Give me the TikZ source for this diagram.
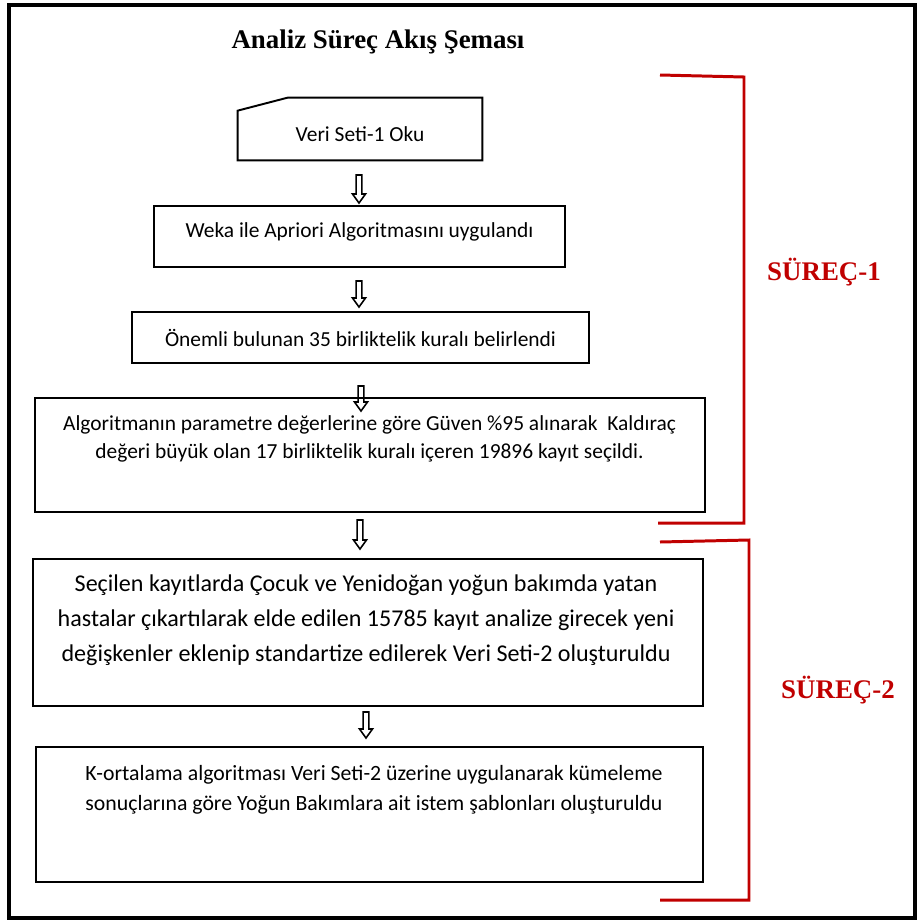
\documentclass[tikz,border=0pt]{standalone}
\usepackage{fontspec}
\setmainfont{Carlito}
\newfontfamily\timesfont{Liberation Serif}
\usetikzlibrary{calc}
\definecolor{surecred}{RGB}{192,0,0}
\newcommand\px{0.02cm}

\begin{document}
\begin{tikzpicture}[x=0.02cm, y=-0.02cm,
  box/.style = {draw, line width=1.1pt, inner sep=0pt},
  boxtext/.style = {align=center, inner sep=0pt, font=\fontsize{12.2}{16}\selectfont},
  surec/.style = {text=surecred, font=\timesfont\bfseries\fontsize{15.3}{18}\selectfont},
  bracket/.style = {draw=surecred, line width=1.7pt},
  holarrow/.style = {line width=0.9pt, to path={
      ($(\tikztostart)+(-2.8,0)$) -- ($(\tikztotarget)+(-2.8,-9)$)
      -- ($(\tikztotarget)+(-6.5,-9)$) -- (\tikztotarget)
      -- ($(\tikztotarget)+(6.5,-9)$) -- ($(\tikztotarget)+(2.8,-9)$)
      -- ($(\tikztostart)+(2.8,0)$) -- cycle}}]
  \useasboundingbox (0,0) rectangle (920,924);
  \draw[line width=1.8pt] (9,5) rectangle (915,918);

  \node[font=\timesfont\bfseries\fontsize{15.3}{18}\selectfont] (title) at (378,42) {Analiz Süreç Akış Şeması};

  % flow boxes
  \node[boxtext, minimum width=244*\px, text height=43.8*\px, text depth=18.2*\px] (b1) at (360,129) {Veri Seti-1 Oku};
  \draw[line width=1.1pt] (b1.south west) -- ($(b1.north west)+(0,13)$) -- ($(b1.north west)+(50,0)$)
    -- (b1.north east) -- (b1.south east) -- cycle;
  \node[box, boxtext, minimum width=411*\px, text height=31.8*\px, text depth=29.2*\px] (b2) at (359.5,236.5) {Weka ile Apriori Algoritmasını uygulandı};
  \node[box, boxtext, minimum width=457*\px, minimum height=51*\px] (b3) at (360.5,337.5) {Önemli bulunan 35 birliktelik kuralı belirlendi};
  \node[box, minimum width=670*\px, minimum height=114*\px] (b4) at (370,455) {};
  \node[boxtext] (t4) at (369.5,439) {Algoritmanın parametre değerlerine göre Güven \%95 alınarak~ Kaldıraç\\
    değeri büyük olan 17 birliktelik kuralı içeren 19896 kayıt seçildi.};
  \node[box, minimum width=670*\px, minimum height=147*\px] (b5) at (368,632.5) {};
  \node[boxtext, font=\fontsize{13.7}{20}\selectfont] (t5) at (366,620) {Seçilen kayıtlarda Çocuk ve Yenidoğan yoğun bakımda yatan\\
    hastalar çıkartılarak elde edilen 15785 kayıt analize girecek yeni\\
    değişkenler eklenip standartize edilerek Veri Seti-2 oluşturuldu};
  \node[box, minimum width=667*\px, minimum height=135*\px] (b6) at (369.5,814.5) {};
  \node[boxtext, font=\fontsize{12.4}{17}\selectfont] (t6) at (374,790) {K-ortalama algoritması Veri Seti-2 üzerine uygulanarak kümeleme\\
    sonuçlarına göre Yoğun Bakımlara ait istem şablonları oluşturuldu};

  % arrows
  \coordinate (a1s) at (359,175);  \coordinate (a1e) at (359,203);
  \coordinate (a2s) at (359,281);  \coordinate (a2e) at (359,307);
  \coordinate (a3s) at (361,386);  \coordinate (a3e) at (361,411);
  \coordinate (a4s) at (360,520);  \coordinate (a4e) at (360,549);
  \coordinate (a5s) at (366,712);  \coordinate (a5e) at (366,738);
  \foreach \i in {1,...,5}
    \draw[holarrow] (a\i s) to (a\i e);

  % brackets
  \draw[bracket] (660,75) -- (744,77) -- (744,523) -- (658,523);
  \draw[bracket] (660,542) -- (749,540) -- (749,900) -- (660,900);
  \node[surec] (s1) at (824,272) {SÜREÇ-1};
  \node[surec] (s2) at (838,690) {SÜREÇ-2};
\end{tikzpicture}
\end{document}
